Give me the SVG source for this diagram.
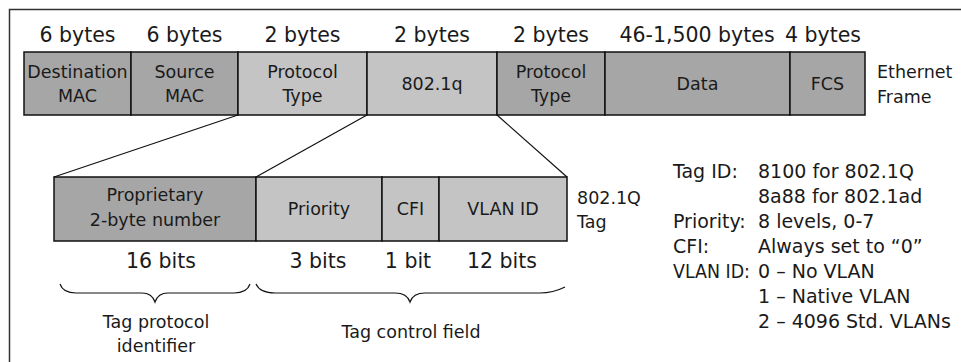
<svg xmlns="http://www.w3.org/2000/svg" width="961" height="362" viewBox="0 0 961 362">
<style>
text{font-family:"DejaVu Sans","Liberation Sans",sans-serif;fill:#1a1a1a}
.sz{font-size:20.5px;text-anchor:middle}
.bx{font-size:17.5px;text-anchor:middle}
.lb{font-size:17.5px}
.rt{font-size:19px}
.dk{fill:#a6a6a6;stroke:#111;stroke-width:1.5}
.lt{fill:#c4c4c4;stroke:#111;stroke-width:1.5}
.cn{stroke:#111;stroke-width:1.2;fill:none}
</style>
<rect width="961" height="362" fill="#fff"/>
<path d="M961,9.5H9.5V362" fill="none" stroke="#333" stroke-width="1.5"/>
<g id="sizes">
<text class="sz" x="77.5" y="42">6 bytes</text>
<text class="sz" x="184.5" y="42">6 bytes</text>
<text class="sz" x="302.5" y="42">2 bytes</text>
<text class="sz" x="432" y="42">2 bytes</text>
<text class="sz" x="551" y="42">2 bytes</text>
<text class="sz" x="697" y="42">46-1,500 bytes</text>
<text class="sz" x="823" y="42">4 bytes</text>
</g>
<g id="dest"><rect class="dk" x="24" y="52" width="107" height="63"/><text class="bx" x="77.5" y="78">Destination</text><text class="bx" x="77.5" y="102">MAC</text></g>
<g id="src"><rect class="dk" x="131" y="52" width="107" height="63"/><text class="bx" x="184.5" y="78">Source</text><text class="bx" x="184.5" y="102">MAC</text></g>
<g id="ptype1"><rect class="lt" x="238" y="52" width="129" height="63"/><text class="bx" x="302.5" y="78">Protocol</text><text class="bx" x="302.5" y="102">Type</text></g>
<g id="q8021"><rect class="lt" x="367" y="52" width="130" height="63"/><text class="bx" x="432" y="90">802.1q</text></g>
<g id="ptype2"><rect class="dk" x="497" y="52" width="108" height="63"/><text class="bx" x="551" y="78">Protocol</text><text class="bx" x="551" y="102">Type</text></g>
<g id="data"><rect class="dk" x="605" y="52" width="185" height="63"/><text class="bx" x="697.5" y="90">Data</text></g>
<g id="fcs"><rect class="dk" x="790" y="52" width="75" height="63"/><text class="bx" x="827.5" y="90">FCS</text></g>
<g id="eth-label"><text class="lb" x="877" y="78">Ethernet</text><text class="lb" x="877" y="103">Frame</text></g>
<g id="connectors">
<line class="cn" x1="238" y1="115" x2="54" y2="177"/>
<line class="cn" x1="367" y1="115" x2="256" y2="177"/>
<line class="cn" x1="497" y1="115" x2="567" y2="177"/>
<path class="cn" d="M60,284 Q63,293 76,293 L142,293 Q152,293 155,302 Q158,293 168,293 L234,293 Q247,293 250,284"/>
<path class="cn" d="M256,284 Q260,293 275,293 L395,293 Q407,293 410,302 Q413,293 425,293 L540,293 Q553,293 565,287"/>
</g>
<g id="tpid"><rect class="dk" x="54" y="177" width="202" height="64"/><text class="bx" x="155" y="201">Proprietary</text><text class="bx" x="155" y="226">2-byte number</text></g>
<g id="prio"><rect class="lt" x="256" y="177" width="126" height="64"/><text class="bx" x="319" y="215">Priority</text></g>
<g id="cfi"><rect class="lt" x="382" y="177" width="57" height="64"/><text class="bx" x="410.5" y="215">CFI</text></g>
<g id="vlanid"><rect class="lt" x="439" y="177" width="128" height="64"/><text class="bx" x="503" y="215">VLAN ID</text></g>
<g id="tag-label"><text class="lb" x="577" y="204">802.1Q</text><text class="lb" x="577" y="228">Tag</text></g>
<g id="bits">
<text class="sz" x="161" y="268">16 bits</text>
<text class="sz" x="318" y="268">3 bits</text>
<text class="sz" x="408" y="268">1 bit</text>
<text class="sz" x="502" y="268">12 bits</text>
</g>
<g id="brace-labels">
<text class="bx" x="156" y="328">Tag protocol</text>
<text class="bx" x="156" y="352">identifier</text>
<text class="bx" x="411" y="338">Tag control field</text>
</g>
<g id="legend">
<text class="rt" x="673" y="178">Tag ID:</text><text class="rt" x="758" y="178">8100 for 802.1Q</text>
<text class="rt" x="758" y="203">8a88 for 802.1ad</text>
<text class="rt" x="673" y="228">Priority:</text><text class="rt" x="758" y="228">8 levels, 0-7</text>
<text class="rt" x="673" y="253">CFI:</text><text class="rt" x="758" y="253">Always set to “0”</text>
<text class="rt" x="673" y="278" textLength="77" lengthAdjust="spacingAndGlyphs">VLAN ID:</text><text class="rt" x="758" y="278">0 – No VLAN</text>
<text class="rt" x="758" y="303">1 – Native VLAN</text>
<text class="rt" x="758" y="328">2 – 4096 Std. VLANs</text>
</g>
</svg>
